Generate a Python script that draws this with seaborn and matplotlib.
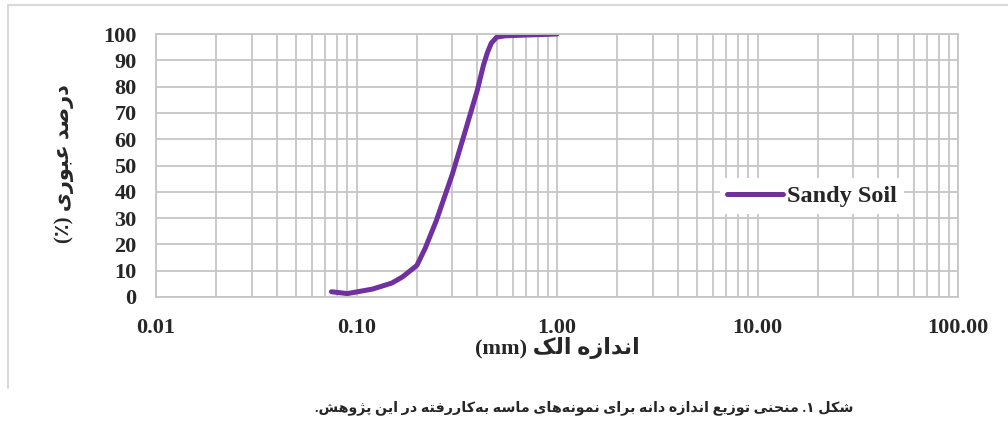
import matplotlib
matplotlib.use("Agg")
import matplotlib.pyplot as plt
import matplotlib.ticker as mticker
from matplotlib.lines import Line2D
import pandas as pd
import seaborn as sns

# sieve size (mm) vs percent passing
sieve_mm = [0.075, 0.09, 0.12, 0.15, 0.17, 0.2, 0.22, 0.25, 0.3, 0.35, 0.4, 0.43, 0.45, 0.47, 0.5, 0.55, 0.7, 1.0]
passing = [2.0, 1.3, 3.0, 5.3, 7.7, 12.0, 18.5, 29.0, 46.5, 63.5, 78.5, 88.2, 93.0, 96.5, 98.8, 99.3, 99.6, 100.0]
series_name = "Sandy Soil"

x_ticks = [0.01, 0.1, 1, 10, 100]
x_tick_labels = ["0.01", "0.10", "1.00", "10.00", "100.00"]
y_ticks = list(range(0, 101, 10))

y_label = "درصد عبوری (٪)"
x_label = "اندازه الک (mm)"
caption = "شکل ۱. منحنی توزیع اندازه دانه برای نمونه‌های ماسه به‌کاررفته در این پژوهش."

# --- minimal Persian shaping (no arabic_reshaper available) ---
FORMS = {
    "ا": ("\uFE8D", "\uFE8E", None, None), "آ": ("\uFE81", "\uFE82", None, None),
    "ب": ("\uFE8F", "\uFE90", "\uFE91", "\uFE92"), "پ": ("\uFB56", "\uFB57", "\uFB58", "\uFB59"),
    "ت": ("\uFE95", "\uFE96", "\uFE97", "\uFE98"), "ث": ("\uFE99", "\uFE9A", "\uFE9B", "\uFE9C"),
    "ج": ("\uFE9D", "\uFE9E", "\uFE9F", "\uFEA0"), "چ": ("\uFB7A", "\uFB7B", "\uFB7C", "\uFB7D"),
    "ح": ("\uFEA1", "\uFEA2", "\uFEA3", "\uFEA4"), "خ": ("\uFEA5", "\uFEA6", "\uFEA7", "\uFEA8"),
    "د": ("\uFEA9", "\uFEAA", None, None), "ذ": ("\uFEAB", "\uFEAC", None, None),
    "ر": ("\uFEAD", "\uFEAE", None, None), "ز": ("\uFEAF", "\uFEB0", None, None),
    "ژ": ("\uFB8A", "\uFB8B", None, None),
    "س": ("\uFEB1", "\uFEB2", "\uFEB3", "\uFEB4"), "ش": ("\uFEB5", "\uFEB6", "\uFEB7", "\uFEB8"),
    "ص": ("\uFEB9", "\uFEBA", "\uFEBB", "\uFEBC"), "ض": ("\uFEBD", "\uFEBE", "\uFEBF", "\uFEC0"),
    "ط": ("\uFEC1", "\uFEC2", "\uFEC3", "\uFEC4"), "ظ": ("\uFEC5", "\uFEC6", "\uFEC7", "\uFEC8"),
    "ع": ("\uFEC9", "\uFECA", "\uFECB", "\uFECC"), "غ": ("\uFECD", "\uFECE", "\uFECF", "\uFED0"),
    "ف": ("\uFED1", "\uFED2", "\uFED3", "\uFED4"), "ق": ("\uFED5", "\uFED6", "\uFED7", "\uFED8"),
    "ک": ("\uFB8E", "\uFB8F", "\uFB90", "\uFB91"), "گ": ("\uFB92", "\uFB93", "\uFB94", "\uFB95"),
    "ل": ("\uFEDD", "\uFEDE", "\uFEDF", "\uFEE0"), "م": ("\uFEE1", "\uFEE2", "\uFEE3", "\uFEE4"),
    "ن": ("\uFEE5", "\uFEE6", "\uFEE7", "\uFEE8"), "و": ("\uFEED", "\uFEEE", None, None),
    "ه": ("\uFEE9", "\uFEEA", "\uFEEB", "\uFEEC"), "ی": ("\uFBFC", "\uFBFD", "\uFBFE", "\uFBFF"),
}
MIRROR = {"(": ")", ")": "("}


def fa(text):
    chars = list(text)
    out = []
    for i, c in enumerate(chars):
        if c == "\u200c":
            continue
        if c not in FORMS:
            out.append(c)
            continue
        prev = chars[i - 1] if i > 0 else ""
        nxt = chars[i + 1] if i + 1 < len(chars) else ""
        join_prev = prev in FORMS and FORMS[prev][2] is not None
        join_next = FORMS[c][2] is not None and nxt in FORMS
        iso, fin, ini, med = FORMS[c]
        if join_prev and join_next:
            out.append(med)
        elif join_prev:
            out.append(fin)
        elif join_next:
            out.append(ini)
        else:
            out.append(iso)
    # visual order: reverse, keeping latin runs left-to-right
    tokens = []
    for c in out:
        if c.isascii() and c.isalnum() and tokens and tokens[-1].isascii() and tokens[-1].isalnum():
            tokens[-1] += c
        else:
            tokens.append(c)
    return "".join(MIRROR.get(t, t) for t in reversed(tokens))


df = pd.DataFrame({"size": sieve_mm, "passing": passing})

sns.set_style("white")
serif = ["Liberation Serif", "DejaVu Sans"]
plt.rcParams["font.family"] = serif

fig = plt.figure(figsize=(10.08, 4.26), dpi=100)
ax = fig.add_axes([156 / 1008, 1 - 297 / 426, 802 / 1008, 263 / 426])

purple = "#7030A0"
sns.lineplot(data=df, x="size", y="passing", ax=ax, color=purple, linewidth=3.6,
             solid_capstyle="round", solid_joinstyle="round", legend=False)

ax.set_xscale("log")
ax.set_xlim(0.01, 100)
ax.set_ylim(0, 100)
ax.set_xticks(x_ticks)
ax.set_xticklabels(x_tick_labels)
ax.set_yticks(y_ticks)
ax.xaxis.set_minor_locator(mticker.LogLocator(base=10, subs=range(2, 10), numticks=20))
ax.xaxis.set_minor_formatter(mticker.NullFormatter())

grid_col = "#c6c6c6"
ax.grid(True, which="major", axis="both", color=grid_col, linewidth=1.3)
ax.grid(True, which="minor", axis="x", color=grid_col, linewidth=1.3)
ax.set_axisbelow(True)
for s in ax.spines.values():
    s.set_color(grid_col)
    s.set_linewidth(1.3)
ax.tick_params(which="both", length=0)
ax.tick_params(axis="y", pad=14, labelsize=16)
ax.tick_params(axis="x", pad=15, labelsize=16)
for lab in ax.get_xticklabels() + ax.get_yticklabels():
    lab.set_fontweight("bold")

ax.set_xlabel("")
ax.set_ylabel("")
fig.text(64 / 1008, 1 - 164 / 426, fa(y_label), rotation=90, ha="center", va="center",
         fontsize=15, fontweight="bold", family=serif)
fig.text(557 / 1008, 1 - 354 / 426, fa(x_label), ha="center", va="baseline",
         fontsize=16, fontweight="bold", family=serif)
fig.text(584 / 1008, 1 - 408 / 426, fa(caption), ha="center", va="center",
         fontsize=10.3, fontweight="bold", family=serif)

handle = Line2D([], [], color=purple, linewidth=3.6, solid_capstyle="round")
leg = ax.legend([handle], [series_name], loc="center left", bbox_to_anchor=(0.703, 0.384),
                frameon=True, fancybox=False, framealpha=1, edgecolor="white",
                handlelength=2.3, handletextpad=0.15, borderpad=0.3, borderaxespad=0,
                prop={"family": "Liberation Serif", "weight": "bold", "size": 17.5})
leg.get_frame().set_linewidth(0)

# chart-area border (only top and left edges show in the crop)
fig.add_artist(Line2D([8 / 1008, 1.0], [1 - 5 / 426, 1 - 5 / 426], transform=fig.transFigure,
                      color="#d9d9d9", linewidth=1.5))
fig.add_artist(Line2D([8 / 1008, 8 / 1008], [1 - 5 / 426, 1 - 388 / 426], transform=fig.transFigure,
                      color="#d9d9d9", linewidth=1.5))

fig.savefig("out.png", dpi=100, facecolor="white")
